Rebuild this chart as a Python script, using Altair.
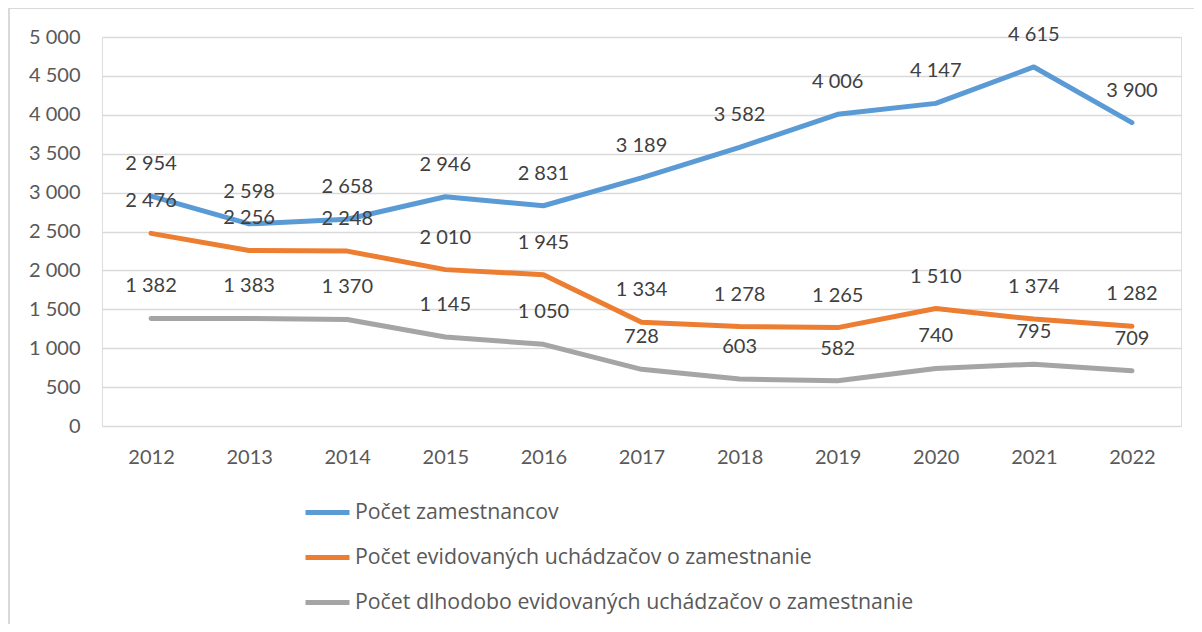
import altair as alt
import pandas as pd

years = ["2012", "2013", "2014", "2015", "2016", "2017", "2018", "2019", "2020", "2021", "2022"]
series_names = [
    "Počet zamestnancov",
    "Počet evidovaných uchádzačov o zamestnanie",
    "Počet dlhodobo evidovaných uchádzačov o zamestnanie",
]
zamestnanci = [2954, 2598, 2658, 2946, 2831, 3189, 3582, 4006, 4147, 4615, 3900]
uchadzaci = [2476, 2256, 2248, 2010, 1945, 1334, 1278, 1265, 1510, 1374, 1282]
dlhodobo = [1382, 1383, 1370, 1145, 1050, 728, 603, 582, 740, 795, 709]
colors = ["#5B9BD5", "#ED7D31", "#A5A5A5"]

rows = []
for name, vals in zip(series_names, [zamestnanci, uchadzaci, dlhodobo]):
    for y, v in zip(years, vals):
        rows.append({"rok": y, "seria": name, "hodnota": v,
                     "popis": f"{v:,}".replace(",", " ")})
df = pd.DataFrame(rows)

FONT = "Lato"
W, H = 1079, 389

x = alt.X("rok:O", sort=years, scale=alt.Scale(type="point", padding=0.5),
          axis=alt.Axis(title=None, labelAngle=0, ticks=False, domain=False, grid=False,
                        labelPadding=21, labelFontSize=20, labelColor="#595959", labelFont=FONT))
y = alt.Y("hodnota:Q", scale=alt.Scale(domain=[0, 5000], nice=False),
          axis=alt.Axis(title=None, values=list(range(0, 5001, 500)), ticks=False, domain=False,
                        grid=True, gridColor="#D9D9D9", gridWidth=1.5,
                        labelPadding=22, labelFontSize=20, labelColor="#595959", labelFont=FONT,
                        labelExpr="replace(format(datum.value, ','), ',', ' ')"))
color = alt.Color("seria:N", sort=series_names,
                  scale=alt.Scale(domain=series_names, range=colors),
                  legend=alt.Legend(title=None, orient="none", legendX=201, legendY=451,
                                    direction="vertical", symbolType="stroke", symbolSize=1936,
                                    symbolStrokeWidth=5, labelFontSize=21.3, labelFont="Open Sans",
                                    labelColor="#595959", labelOffset=3, rowPadding=10,
                                    padding=0, labelLimit=800))

base = alt.Chart(df)
lines = base.mark_line(strokeWidth=5, strokeCap="round", strokeJoin="round").encode(
    x=x, y=y, color=color, detail="seria:N")
labels = base.mark_text(dy=-32, fontSize=20, font=FONT, color="#404040", baseline="middle").encode(
    x=x, y=y, text="popis:N")

frame_df = pd.DataFrame({"a": [0]})
frame_left = alt.Chart(frame_df).mark_rule(color="#D9D9D9", strokeWidth=2).encode(
    x=alt.value(-93), y=alt.value(-29), y2=alt.value(700))
frame_top = alt.Chart(frame_df).mark_rule(color="#D9D9D9", strokeWidth=2).encode(
    x=alt.value(-93), x2=alt.value(1200), y=alt.value(-29))

chart = alt.layer(frame_left, frame_top, lines, labels).properties(
    width=W, height=H,
    autosize=alt.AutoSizeParams(type="none"),
    padding={"left": 94, "top": 29, "right": 13, "bottom": 198},
).configure_view(stroke=None).configure(background="white")

chart.save("out.html", embed_options={"renderer": "svg", "actions": False})
